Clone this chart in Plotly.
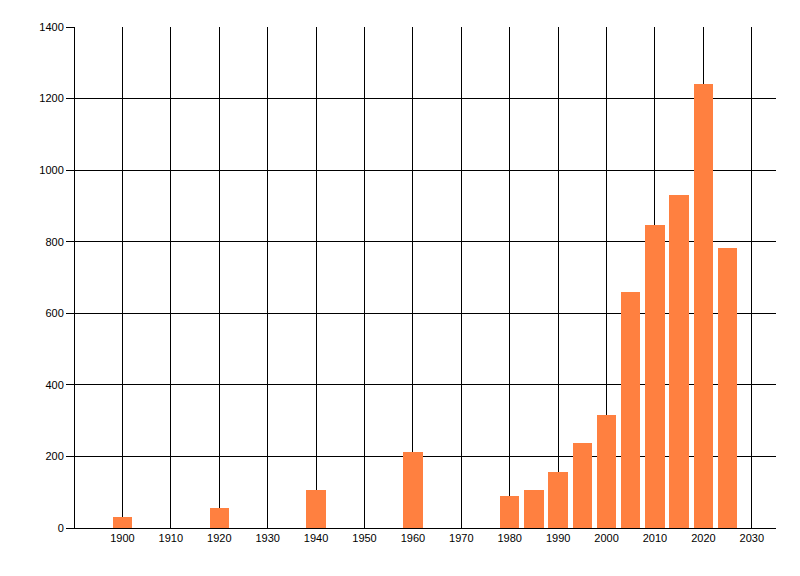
import plotly.graph_objects as go

# roky a hodnoty
years = [1900, 1920, 1940, 1960, 1980, 1985, 1990, 1995, 2000, 2005, 2010, 2015, 2020, 2025]
values = [30, 56, 106, 212, 89, 106, 156, 237, 316, 659, 846, 930, 1240, 782]

fig = go.Figure()
fig.add_trace(go.Bar(x=years, y=values, width=4, marker=dict(color="#FF8040", line=dict(width=0))))

# stránka má 8px okraj, proto posun
fig.update_layout(
    width=800, height=576,
    margin=dict(l=67, r=32, t=19, b=56),
    plot_bgcolor="white", paper_bgcolor="white",
    font=dict(family="Liberation Sans", size=11, color="black"),
    showlegend=False,
    bargap=0,
)
fig.update_xaxes(
    range=[1890.2, 2035], tick0=1900, dtick=10,
    showgrid=True, gridcolor="black", gridwidth=1,
    showline=True, linecolor="black", linewidth=1,
    ticks="", zeroline=False,
)
fig.update_yaxes(
    range=[0, 1400], dtick=200,
    showgrid=True, gridcolor="black", gridwidth=1,
    showline=True, linecolor="black", linewidth=1,
    ticks="outside", ticklen=8, tickcolor="black", zeroline=False,
)

fig.write_html("out.html")
